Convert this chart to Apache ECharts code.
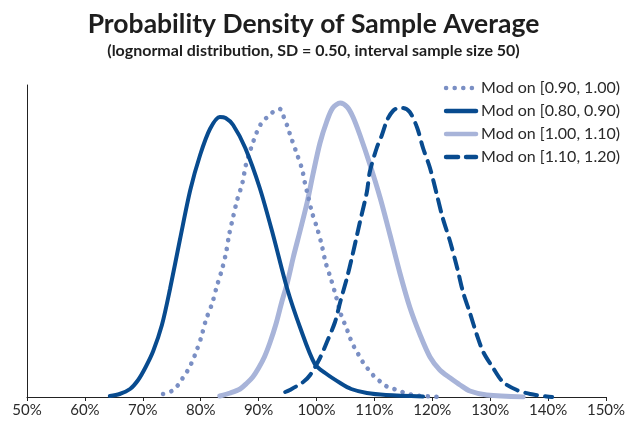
<!DOCTYPE html>
<html><head><meta charset="utf-8">
<script src="https://cdn.jsdelivr.net/npm/echarts@6/dist/echarts.min.js"></script>
<style>html,body{margin:0;padding:0;background:#fff}#c{width:627px;height:422px}</style>
</head><body><div id="c"></div>
<script>
// x values in percent of mode, y values relative density
const xTicks = [50, 60, 70, 80, 90, 100, 110, 120, 130, 140, 150];
const names = ['Mod on [0.90, 1.00)', 'Mod on [0.80, 0.90)', 'Mod on [1.00, 1.10)', 'Mod on [1.10, 1.20)'];

const dottedX = [73.5,75.0,76.1,76.9,77.8,78.5,79.2,80.1,80.9,82.0,82.8,83.7,84.4,84.9,85.6,86.3,87.2,87.8,88.7,89.7,90.4,91.5,92.5,93.7,94.2,94.9,95.4,96.5,97.5,98.0,98.5,99.2,100.1,100.9,101.6,102.5,103.4,104.2,105.3,105.8,106.5,107.2,108.0,108.9,109.9,111.1,112.3,113.9,115.3,116.7,118.4,119.8,121.2];
const dottedY = [3,6,12,19,27,35,45,60,77,94,111,128,145,162,180,197,214,232,249,265,273,280,285,288,282,272,263,245,228,214,202,185,169,152,134,118,100,83,67,59,50,43,35,28,21,15,10,7,4,2,1,0.5,0];

const darkX = [64.3,66.0,67.8,69.2,70.5,71.8,73.3,74.7,76.4,78.2,79.9,81.6,83.3,84.3,85.6,87.7,90.2,92.5,94.9,97.2,99.7,101.5,104.1,106.0,108.7,112.0,118.4];
const darkY = [1,3,8,17,30,46,72,108,157,207,242,268,280,279,272,249,209,162,109,69,33,24,14,8,4,2,0.5];

const lightX = [83.3,85.1,86.8,88.0,89.0,90.0,91.0,92.0,93.0,94.0,95.0,96.0,97.2,98.4,99.4,100.6,101.8,102.8,104.1,105.3,106.3,107.5,109.2,111.0,112.7,114.4,116.1,117.9,119.6,121.3,123.1,124.8,126.5,129.4,135.7];
const lightY = [1,4,8,14,20,29,40,55,73,95,115,140,167,195,223,254,276,289,294,290,280,262,233,199,162,124,90,62,40,27,19,12,6,2,0];

const dashedX = [94.6,95.4,97.7,98.9,100.6,101.8,103.2,104.1,105.3,106.1,107.0,107.5,108.7,109.2,110.4,111.3,112.2,113.2,114.2,114.9,116.1,117.4,118.4,119.6,120.8,121.8,123.1,124.3,125.3,126.5,127.7,128.8,130.5,132.2,134.6,136.9,139.8,140.7];
const dashedY = [5,7,15,22,39,55,75,95,120,139,162,175,205,225,249,262,277,286,289,289,285,269,249,229,202,179,155,129,105,84,62,45,29,15,7,3,0.5,0];

const zip = (a, b) => a.map((v, i) => [v, b[i]]);
const DARK = '#084b8f', LIGHT = '#a8b4d9', DOT = '#7a8fc4';

const chart = echarts.init(document.getElementById('c'), null, {renderer: 'canvas'});
const FONT = 'Lato, "Open Sans", sans-serif';
chart.setOption({
  animation: false,
  textStyle: {fontFamily: FONT},
  title: {
    left: 'center', top: 6,
    text: 'Probability Density of Sample Average',
    subtext: '(lognormal distribution, SD = 0.50, interval sample size 50)',
    itemGap: 5,
    textStyle: {fontFamily: FONT, fontSize: 26.5, fontWeight: 'bold', color: '#1e1e1e'},
    subtextStyle: {fontFamily: FONT, fontSize: 16, fontWeight: 'bold', color: '#1e1e1e'}
  },
  legend: {
    orient: 'vertical', right: 2, top: 75,
    itemWidth: 30, itemHeight: 14, itemGap: 7,
    data: names,
    itemStyle: {opacity: 0},
    lineStyle: {width: 4.5, cap: 'round'},
    textStyle: {fontFamily: FONT, fontSize: 16, color: '#2a2a2a'}
  },
  grid: {left: 27, right: 21, top: 85, bottom: 25, containLabel: false, outerBoundsMode: 'none'},
  xAxis: {
    type: 'value', min: 50, max: 150, interval: 10,
    axisLine: {lineStyle: {color: '#222', width: 1}},
    axisTick: {show: true, length: 4, lineStyle: {color: '#222'}},
    axisLabel: {formatter: '{value}%', fontSize: 15, color: '#2a2a2a', margin: 6},
    splitLine: {show: false}
  },
  yAxis: {
    type: 'value', min: 0, max: 312,
    axisLine: {show: true, lineStyle: {color: '#222', width: 1}},
    axisTick: {show: false}, axisLabel: {show: false}, splitLine: {show: false}
  },
  series: [
    {name: names[2], type: 'line', smooth: 0.3, symbol: 'none', data: zip(lightX, lightY),
     lineStyle: {color: LIGHT, width: 5, cap: 'round'}, itemStyle: {color: LIGHT}},
    {name: names[0], type: 'line', smooth: 0.3, symbol: 'none', data: zip(dottedX, dottedY),
     lineStyle: {color: DOT, width: 4.6, type: [0.1, 8.5], cap: 'round'}, itemStyle: {color: DOT}},
    {name: names[1], type: 'line', smooth: 0.3, symbol: 'none', data: zip(darkX, darkY),
     lineStyle: {color: DARK, width: 4, cap: 'round'}, itemStyle: {color: DARK}},
    {name: names[3], type: 'line', smooth: 0.3, symbol: 'none', data: zip(dashedX, dashedY),
     lineStyle: {color: DARK, width: 4, type: [12, 8], cap: 'round'}, itemStyle: {color: DARK}}
  ]
});
</script></body></html>
